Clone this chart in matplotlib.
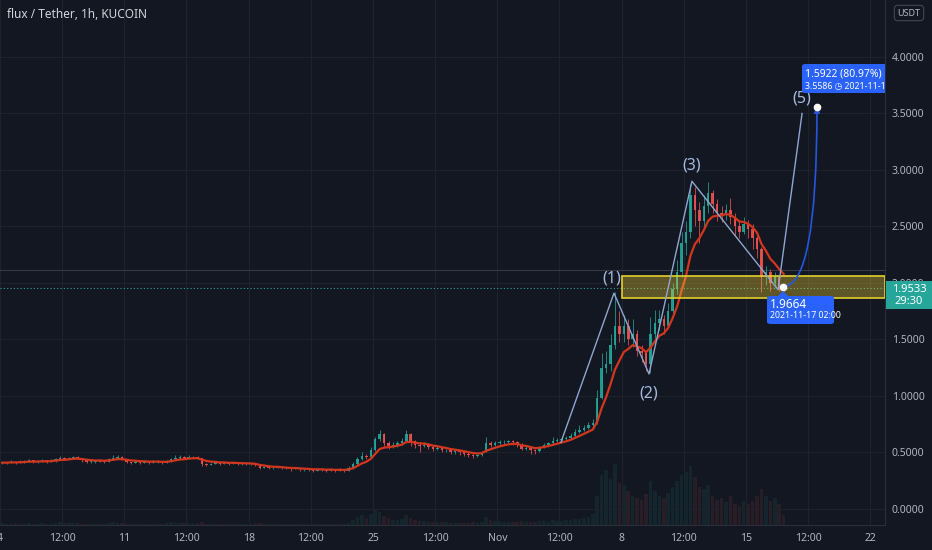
import numpy as np
import pandas as pd
import matplotlib
matplotlib.use('Agg')
import matplotlib.pyplot as plt
import matplotlib.dates as mdates
from matplotlib.patches import Rectangle, FancyBboxPatch, FancyArrowPatch, Polygon
from matplotlib.path import Path

W, H = 932, 550

# 6h bars, starting 2021-10-04 00:00 (one row per day)
closes = [
    0.41, 0.41, 0.42, 0.41,
    0.42, 0.42, 0.43, 0.42,
    0.42, 0.43, 0.42, 0.43,
    0.44, 0.45, 0.44, 0.45,
    0.46, 0.45, 0.43, 0.42,
    0.42, 0.42, 0.43, 0.42,
    0.44, 0.45, 0.46, 0.44,
    0.42, 0.41, 0.42, 0.41,
    0.42, 0.41, 0.42, 0.42,
    0.41, 0.42, 0.44, 0.45,
    0.46, 0.45, 0.46, 0.46,
    0.45, 0.40, 0.39, 0.40,
    0.41, 0.40, 0.41, 0.40,
    0.41, 0.40, 0.40, 0.40,
    0.40, 0.39, 0.36, 0.37,
    0.36, 0.36, 0.37, 0.36,
    0.36, 0.35, 0.36, 0.35,
    0.35, 0.35, 0.34, 0.35,
    0.35, 0.34, 0.35, 0.34,
    0.35, 0.34, 0.36, 0.40,
    0.44, 0.47, 0.46, 0.52,
    0.62, 0.66, 0.58, 0.56,
    0.57, 0.58, 0.60, 0.66,
    0.60, 0.57, 0.56, 0.57,
    0.55, 0.53, 0.54, 0.52,
    0.52, 0.50, 0.51, 0.50,
    0.49, 0.48, 0.47, 0.48,
    0.50, 0.58, 0.57, 0.58,
    0.59, 0.59, 0.60, 0.59,
    0.57, 0.53, 0.54, 0.52,
    0.51, 0.55, 0.57, 0.58,
    0.60, 0.61, 0.62, 0.63,
    0.65, 0.68, 0.70, 0.72,
    0.74, 0.76, 0.98, 1.25,
    1.28, 1.45, 1.62, 1.55,
    1.62, 1.50, 1.55, 1.40,
    1.38, 1.28, 1.55, 1.65,
    1.68, 1.62, 1.75, 1.95,
    2.10, 2.35, 2.45, 2.78,
    2.65, 2.55, 2.68, 2.80,
    2.70, 2.62, 2.60, 2.65,
    2.58, 2.50, 2.45, 2.52,
    2.48, 2.40, 2.30, 2.05,
    2.10, 2.00, 2.05, 1.97,
    1.9533,
]
highs = [
    0.42, 0.42, 0.43, 0.42,
    0.43, 0.43, 0.44, 0.43,
    0.43, 0.44, 0.43, 0.44,
    0.45, 0.47, 0.46, 0.46,
    0.47, 0.47, 0.45, 0.44,
    0.43, 0.43, 0.44, 0.43,
    0.45, 0.48, 0.48, 0.47,
    0.44, 0.42, 0.43, 0.42,
    0.43, 0.42, 0.43, 0.43,
    0.42, 0.43, 0.45, 0.48,
    0.48, 0.47, 0.48, 0.47,
    0.47, 0.45, 0.41, 0.41,
    0.42, 0.41, 0.42, 0.41,
    0.42, 0.41, 0.41, 0.41,
    0.41, 0.40, 0.39, 0.38,
    0.37, 0.37, 0.38, 0.37,
    0.37, 0.36, 0.37, 0.36,
    0.36, 0.36, 0.35, 0.36,
    0.36, 0.35, 0.36, 0.35,
    0.36, 0.35, 0.38, 0.42,
    0.46, 0.50, 0.49, 0.55,
    0.64, 0.70, 0.67, 0.60,
    0.59, 0.60, 0.63, 0.70,
    0.67, 0.61, 0.59, 0.59,
    0.58, 0.56, 0.56, 0.55,
    0.53, 0.53, 0.52, 0.52,
    0.51, 0.50, 0.49, 0.49,
    0.51, 0.64, 0.60, 0.60,
    0.61, 0.61, 0.61, 0.61,
    0.60, 0.58, 0.56, 0.55,
    0.53, 0.56, 0.58, 0.59,
    0.64, 0.63, 0.64, 0.65,
    0.67, 0.71, 0.74, 0.74,
    0.77, 0.80, 1.05, 1.38,
    1.40, 1.55, 1.92, 1.75,
    1.72, 1.68, 1.68, 1.58,
    1.45, 1.40, 1.70, 1.76,
    1.76, 1.72, 1.82, 2.00,
    2.20, 2.45, 2.55, 2.88,
    2.85, 2.72, 2.78, 2.89,
    2.82, 2.74, 2.68, 2.70,
    2.75, 2.62, 2.55, 2.58,
    2.56, 2.52, 2.42, 2.32,
    2.15, 2.12, 2.10, 2.07,
    1.98,
]
lows = [
    0.40, 0.40, 0.41, 0.40,
    0.41, 0.41, 0.42, 0.41,
    0.41, 0.42, 0.41, 0.42,
    0.42, 0.44, 0.43, 0.44,
    0.44, 0.44, 0.42, 0.41,
    0.41, 0.41, 0.42, 0.41,
    0.42, 0.44, 0.44, 0.43,
    0.41, 0.40, 0.41, 0.40,
    0.41, 0.40, 0.41, 0.41,
    0.40, 0.41, 0.42, 0.44,
    0.44, 0.44, 0.45, 0.45,
    0.44, 0.38, 0.38, 0.39,
    0.40, 0.39, 0.40, 0.39,
    0.40, 0.39, 0.39, 0.39,
    0.39, 0.38, 0.35, 0.36,
    0.35, 0.35, 0.36, 0.35,
    0.35, 0.34, 0.35, 0.34,
    0.34, 0.34, 0.33, 0.34,
    0.34, 0.33, 0.34, 0.33,
    0.34, 0.33, 0.34, 0.35,
    0.39, 0.43, 0.44, 0.45,
    0.51, 0.60, 0.56, 0.53,
    0.54, 0.55, 0.57, 0.59,
    0.56, 0.54, 0.50, 0.55,
    0.53, 0.51, 0.52, 0.50,
    0.50, 0.49, 0.49, 0.48,
    0.47, 0.46, 0.45, 0.46,
    0.47, 0.50, 0.55, 0.56,
    0.57, 0.57, 0.58, 0.57,
    0.55, 0.52, 0.52, 0.49,
    0.49, 0.50, 0.54, 0.56,
    0.57, 0.59, 0.60, 0.61,
    0.62, 0.64, 0.67, 0.69,
    0.71, 0.73, 0.75, 0.97,
    1.20, 1.22, 1.42, 1.48,
    1.48, 1.45, 1.43, 1.35,
    1.30, 1.22, 1.20, 1.50,
    1.58, 1.55, 1.60, 1.72,
    1.90, 2.05, 2.25, 2.40,
    2.50, 2.35, 2.48, 2.62,
    2.62, 2.55, 2.54, 2.56,
    2.52, 2.42, 2.40, 2.43,
    2.40, 2.30, 2.22, 1.92,
    1.98, 1.93, 1.96, 1.93,
    1.94,
]
volumes = [
    2, 1, 1, 2,   1, 1, 2, 1,   1, 2, 1, 1,   2, 3, 2, 2,
    2, 2, 1, 1,   1, 1, 1, 1,   2, 3, 2, 2,   1, 1, 1, 1,
    1, 1, 1, 1,   1, 2, 3, 2,   2, 2, 2, 1,   2, 3, 1, 1,
    1, 1, 1, 1,   1, 1, 1, 1,   1, 2, 2, 1,   1, 1, 1, 1,
    1, 1, 1, 1,   1, 1, 1, 1,   1, 1, 1, 1,   1, 1, 2, 5,
    8, 10, 7, 12,  16, 14, 9, 7,  5, 5, 6, 10,  7, 5, 4, 4,
    3, 3, 3, 3,   3, 2, 2, 2,   2, 2, 3, 2,   3, 8, 5, 4,
    4, 3, 3, 3,   3, 4, 3, 3,   3, 4, 4, 3,   5, 4, 4, 5,
    5, 6, 6, 7,   8, 12, 30, 52,  58, 48, 64, 44,  42, 36, 30, 28,
    26, 32, 46, 36,  30, 28, 34, 40,  46, 52, 56, 62,  50, 40, 38, 42,
    30, 26, 28, 24,  30, 22, 20, 25,  22, 25, 30, 38,  30, 25, 28, 22,
    10,
]
first_open = 0.41
last_price = 1.9533
countdown = '29:30'
upper_line = 2.115

x_tick_times = ['2021-10-04', '2021-10-07 12:00', '2021-10-11', '2021-10-14 12:00',
                '2021-10-18', '2021-10-21 12:00', '2021-10-25', '2021-10-28 12:00',
                '2021-11-01', '2021-11-04 12:00', '2021-11-08', '2021-11-11 12:00',
                '2021-11-15', '2021-11-18 12:00', '2021-11-22']
x_tick_labels = ['4', '12:00', '11', '12:00', '18', '12:00', '25', '12:00',
                 'Nov', '12:00', '8', '12:00', '15', '12:00', '22']
y_ticks = [0.0, 0.5, 1.0, 1.5, 2.0, 2.5, 3.0, 3.5, 4.0]

wave_times = ['2021-11-04 14:00', '2021-11-07 13:40', '2021-11-09 13:00',
              '2021-11-11 23:00', '2021-11-16 19:30', '2021-11-18 03:50']
wave_prices = [0.59, 1.91, 1.195, 2.90, 1.94, 3.50]
wave_labels = ['(1)', '(2)', '(3)', '(5)']
wave_label_times = ['2021-11-07 11:00', '2021-11-09 13:00', '2021-11-11 23:00', '2021-11-18 03:00']
wave_label_prices = [2.04, 1.018, 3.04, 3.635]

zone_start = '2021-11-08 00:30'
zone_low, zone_high = 1.867, 2.062

proj_start_time, proj_start_price = '2021-11-17 02:00', 1.9664
proj_end_time, proj_end_price = '2021-11-19 00:00', 3.5586

# colours
BG = '#131722'
GRID = '#1e222d'
TXT = '#b2b5be'
UP = '#26a69a'
DOWN = '#ef5350'

plt.rcParams['font.family'] = ['Noto Sans', 'DejaVu Sans']


def fpx(x, y):
    return x / W, 1 - y / H


def tnum(s):
    return mdates.date2num(pd.Timestamp(s))


bar_times = pd.date_range('2021-10-04 00:00', periods=len(closes), freq='6h')
x = mdates.date2num(bar_times) + 0.125
c = np.array(closes)
o = np.array([first_open] + closes[:-1])
hi = np.array(highs)
lo = np.array(lows)
colors = np.where(c >= o, UP, DOWN)
ma = pd.Series(closes).ewm(span=7, adjust=False).mean()

fig = plt.figure(figsize=(W / 100, H / 100), dpi=100, facecolor=BG)
rect = [0, 25 / H, 885 / W, 525 / H]
t0 = tnum('2021-10-04')
xlim = (t0, t0 + 49.83)

# volume underneath
vax = fig.add_axes(rect)
vax.set_facecolor(BG)
vax.bar(x, volumes, width=0.2, color=colors, alpha=0.1, linewidth=0)
vax.set_xlim(*xlim)
vax.set_ylim(0, 550)
vax.axis('off')

ax = fig.add_axes(rect)
ax.set_facecolor('none')
ax.set_xlim(*xlim)
ax.set_ylim(-0.1416, 4.504)

ax.set_xticks([tnum(t) for t in x_tick_times])
ax.set_xticklabels(x_tick_labels)
ax.set_yticks(y_ticks)
ax.set_yticklabels([f'{v:.4f}' for v in y_ticks])
ax.yaxis.tick_right()
ax.tick_params(axis='both', length=0, labelcolor=TXT, labelsize=7.5)
ax.tick_params(axis='x', pad=6)
ax.tick_params(axis='y', pad=5)
ax.grid(True, color=GRID, lw=0.8)
ax.set_axisbelow(True)
for side in ['top', 'left']:
    ax.spines[side].set_visible(False)
for side in ['right', 'bottom']:
    ax.spines[side].set_color('#2a2e39')
    ax.spines[side].set_linewidth(0.8)

# level lines
ax.axhline(upper_line, color='#363a45', lw=0.8, zorder=1)
ax.axhline(last_price, color=UP, lw=0.8, ls=(0, (1, 2)), zorder=1)

# candles
ax.vlines(x, lo, hi, colors=colors, lw=0.6, alpha=0.9, zorder=2)
ax.bar(x, np.maximum(np.abs(c - o), 0.004), bottom=np.minimum(o, c), width=0.14,
       color=colors, alpha=0.9, linewidth=0, zorder=3)
ax.plot(x, ma, color='#d3361c', lw=1.6, zorder=4)

# support zone
zx = tnum(zone_start)
ax.add_patch(Rectangle((zx, zone_low), xlim[1] - zx, zone_high - zone_low,
                       facecolor=(0.99, 0.85, 0.21, 0.33), edgecolor='#e3d02a', lw=1.2, zorder=5))

# elliott wave
ax.plot([tnum(t) for t in wave_times], wave_prices, color='#8ea6cf', lw=1.0, zorder=6)
for lab, t, p in zip(wave_labels, wave_label_times, wave_label_prices):
    ax.text(tnum(t), p, lab, color='#a3b9de', fontsize=11.5, ha='center', va='center', zorder=7)

# projection curve
ps = (tnum(proj_start_time), proj_start_price)
pe = (tnum(proj_end_time), proj_end_price)
curve = Path([ps, (pe[0], ps[1]), pe], [Path.MOVETO, Path.CURVE3, Path.CURVE3])
ax.add_patch(FancyArrowPatch(path=curve, arrowstyle='-|>', mutation_scale=8,
                             color='#2456e0', lw=1.2, zorder=8))
ax.plot([ps[0], pe[0]], [ps[1], pe[1]], 'o', color='white', ms=4.5, zorder=9)

# tooltip at the start point
ax.add_patch(FancyBboxPatch(fpx(767, 324), 67 / W, 28 / H,
                            boxstyle='round,pad=0,rounding_size=0.004',
                            transform=fig.transFigure, fc='#2962ff', ec='none', zorder=10))
ax.add_patch(Polygon([fpx(777, 297), fpx(783, 291), fpx(789, 297)], closed=True,
                     transform=fig.transFigure, fc='#2962ff', ec='none', zorder=10))
ax.text(*fpx(770, 305), f'{proj_start_price:.4f}', transform=fig.transFigure,
        color='white', fontsize=8.5, va='center', zorder=11)
ax.text(*fpx(770, 316), '2021-11-17 02:00', transform=fig.transFigure,
        color='white', fontsize=6.3, fontweight='semibold', va='center', zorder=11)

# tooltip at the target (clipped by the price scale)
change = proj_end_price - proj_start_price
pct = change / proj_start_price * 100
ax.add_patch(FancyBboxPatch(fpx(802, 93), 100 / W, 29 / H,
                            boxstyle='round,pad=0,rounding_size=0.004',
                            transform=fig.transFigure, fc='#2962ff', ec='none', zorder=10))
ax.text(*fpx(805, 74), f'{change:.4f} ({pct:.2f}%)', transform=fig.transFigure,
        color='white', fontsize=7.5, va='center', zorder=11, clip_on=True)
ax.text(*fpx(805, 87), f'{proj_end_price:.4f} \u25F7 2021-11-19 00:00', transform=fig.transFigure,
        color='white', fontsize=6.3, fontweight='semibold', va='center', zorder=11, clip_on=True)

# header + right scale labels
fig.text(*fpx(7, 14), 'flux / Tether, 1h, KUCOIN', color='#d1d4dc', fontsize=8.5,
         va='center', fontweight='semibold')
fig.text(*fpx(909, 13), 'USDT', color=TXT, fontsize=6.5, ha='center', va='center',
         bbox=dict(boxstyle='round,pad=0.35', fc=BG, ec='#434651', lw=0.8))
fig.patches.append(Rectangle(fpx(886, 309), 46 / W, 28 / H, transform=fig.transFigure,
                             fc=UP, ec='none', figure=fig, zorder=5))
fig.text(*fpx(909, 289), f'{last_price:.4f}', color='white', fontsize=8, ha='center', va='center', zorder=6)
fig.text(*fpx(909, 301), countdown, color='white', fontsize=8, ha='center', va='center', zorder=6)

fig.savefig('out.png', dpi=100, facecolor=BG)
